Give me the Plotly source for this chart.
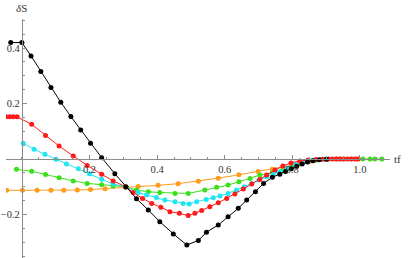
import plotly.graph_objects as go

# ---- data ----
black_x = [-0.033, 0.0, 0.027, 0.056, 0.086, 0.115, 0.145, 0.174, 0.203, 0.236, 0.275, 0.308,
           0.339, 0.374, 0.408, 0.448, 0.488, 0.522, 0.546, 0.581, 0.610, 0.640, 0.665, 0.691,
           0.715, 0.741, 0.763, 0.780, 0.797, 0.813, 0.829, 0.845, 0.861, 0.880, 0.901]
black_y = [0.420, 0.420, 0.372, 0.316, 0.258, 0.205, 0.153, 0.105, 0.057, 0.005, -0.053, -0.101,
           -0.143, -0.184, -0.226, -0.270, -0.310, -0.294, -0.264, -0.238, -0.208, -0.178, -0.148, -0.118,
           -0.088, -0.066, -0.055, -0.045, -0.035, -0.026, -0.018, -0.011, -0.006, -0.003, -0.001]

red_x = [-0.047, -0.036, -0.026, -0.014, 0.029, 0.070, 0.110, 0.152, 0.193, 0.236, 0.270, 0.307,
         0.329, 0.357, 0.384, 0.411, 0.438, 0.466, 0.492, 0.512, 0.532, 0.556, 0.581, 0.606,
         0.630, 0.655, 0.680, 0.704, 0.724, 0.749, 0.772, 0.796, 0.822, 0.846, 0.870, 0.890,
         0.908, 0.919, 0.930, 0.941, 0.952, 0.963, 0.974, 0.985, 0.995]
red_y = [0.152, 0.152, 0.152, 0.152, 0.125, 0.085, 0.047, 0.011, -0.023, -0.055, -0.079, -0.100,
         -0.121, -0.142, -0.160, -0.174, -0.190, -0.196, -0.204, -0.196, -0.186, -0.172, -0.158, -0.142,
         -0.126, -0.108, -0.090, -0.074, -0.058, -0.040, -0.025, -0.014, -0.007, -0.004, -0.002, -0.001,
         0.0, 0.0, 0.0, 0.0, 0.0, 0.0, 0.0, 0.0, 0.0]

cyan_x = [0.004, 0.036, 0.068, 0.101, 0.132, 0.167, 0.200, 0.236, 0.270, 0.307, 0.344, 0.369,
          0.398, 0.423, 0.453, 0.477, 0.495, 0.517, 0.545, 0.566, 0.586, 0.610, 0.635, 0.658,
          0.680, 0.701, 0.724, 0.744, 0.763, 0.785, 0.810, 0.835, 0.860, 0.900, 0.940, 0.975]
cyan_y = [0.057, 0.035, 0.017, -0.001, -0.018, -0.035, -0.053, -0.073, -0.090, -0.100, -0.121, -0.130,
          -0.139, -0.148, -0.154, -0.160, -0.162, -0.154, -0.146, -0.140, -0.133, -0.124, -0.112, -0.100,
          -0.088, -0.076, -0.064, -0.054, -0.046, -0.033, -0.020, -0.010, -0.004, 0.0, 0.0, 0.0]

green_x = [-0.016, 0.029, 0.070, 0.110, 0.152, 0.193, 0.236, 0.270, 0.307, 0.339, 0.374, 0.408,
           0.453, 0.492, 0.541, 0.576, 0.610, 0.642, 0.675, 0.704, 0.741, 0.768, 0.800, 0.830,
           0.870, 0.930, 1.009, 1.030, 1.044, 1.065]
green_y = [-0.037, -0.044, -0.056, -0.068, -0.079, -0.088, -0.093, -0.097, -0.100, -0.112, -0.118, -0.121,
           -0.124, -0.124, -0.112, -0.102, -0.094, -0.082, -0.070, -0.058, -0.049, -0.042, -0.028, -0.014,
           -0.004, 0.0, 0.0, 0.0, 0.0, 0.0]

orange_x = [-0.045, 0.002, 0.045, 0.086, 0.124, 0.164, 0.203, 0.246, 0.305, 0.344, 0.403, 0.462,
            0.522, 0.581, 0.642, 0.699, 0.741, 0.775, 0.810, 0.850, 0.900, 0.950, 0.990]
orange_y = [-0.113, -0.113, -0.113, -0.113, -0.113, -0.112, -0.110, -0.107, -0.101, -0.099, -0.095, -0.089,
            -0.080, -0.069, -0.057, -0.045, -0.037, -0.029, -0.020, -0.010, -0.002, 0.0, 0.0]

x_ticks = [0.2, 0.4, 0.6, 0.8, 1.0]
y_ticks = [-0.2, 0.2, 0.4]

series = [
    ("orange", orange_x, orange_y, "#ff9a1a"),
    ("green", green_x, green_y, "#3be01a"),
    ("cyan", cyan_x, cyan_y, "#1ee6f2"),
    ("red", red_x, red_y, "#ff1a1a"),
    ("black", black_x, black_y, "#000000"),
]

X_RANGE = [-0.047, 1.089]
Y_RANGE = [-0.357, 0.505]

fig = go.Figure()
for name, xs, ys, col in series:
    fig.add_trace(go.Scatter(x=xs, y=ys, mode="lines+markers", name=name,
                             line=dict(color=col, width=1),
                             marker=dict(color=col, size=5)))

axis_col = "#8c8c8c"
serif = "Liberation Serif, DejaVu Serif, serif"
tick_font = dict(family=serif, size=10.5, color="#333333")

fig.update_layout(
    width=409, height=258, autosize=False,
    margin=dict(l=6, r=19, t=19, b=0),
    paper_bgcolor="white", plot_bgcolor="white",
    showlegend=False,
    xaxis=dict(range=X_RANGE, anchor="free",
               position=(0 - Y_RANGE[0]) / (Y_RANGE[1] - Y_RANGE[0]),
               showgrid=False, zeroline=False, showline=True,
               linecolor=axis_col, linewidth=1,
               tickvals=x_ticks, tickformat=".1f", ticks="inside", ticklen=4,
               tickcolor=axis_col, tickfont=tick_font, automargin=False,
               minor=dict(tick0=0, dtick=0.05, ticks="inside", ticklen=2.5, tickcolor=axis_col)),
    yaxis=dict(range=Y_RANGE, anchor="free",
               position=(0 - X_RANGE[0]) / (X_RANGE[1] - X_RANGE[0]),
               showgrid=False, zeroline=False, showline=True,
               linecolor=axis_col, linewidth=1,
               tickvals=y_ticks, tickformat=".1f", ticks="inside", ticklen=4,
               tickcolor=axis_col, tickfont=tick_font, automargin=False,
               minor=dict(tick0=0, dtick=0.05, ticks="inside", ticklen=2.5, tickcolor=axis_col)),
    annotations=[
        dict(text="<i>δ</i>S", xref="x", x=0, yref="paper", y=1, yanchor="bottom",
             xanchor="center", yshift=3, showarrow=False,
             font=dict(family=serif, size=11, color="#333333")),
        dict(text="tf", xref="paper", x=1, xanchor="left", xshift=2, yref="y", y=0,
             yanchor="middle", showarrow=False,
             font=dict(family=serif, size=11, color="#333333")),
    ],
)

fig.write_html("out.html", config={"displayModeBar": False},
               post_script="document.body.style.margin='0px';")
